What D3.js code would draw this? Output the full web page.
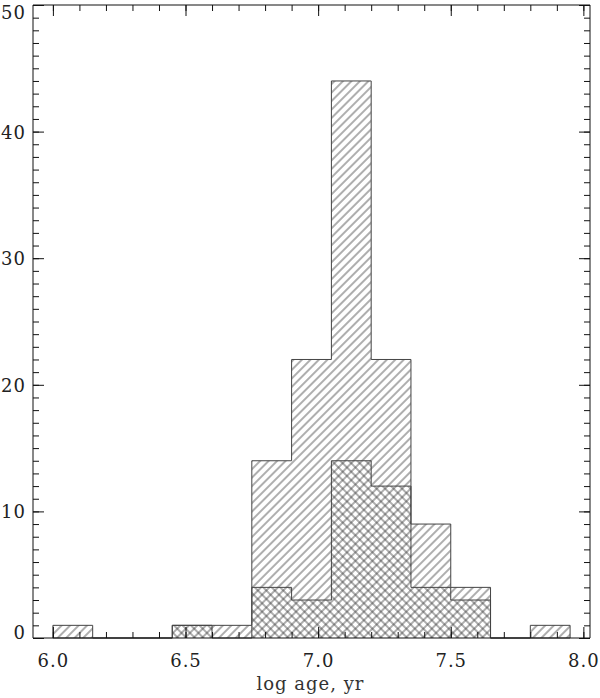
<!DOCTYPE html>
<html>
<head>
<meta charset="utf-8">
<script src="https://cdn.jsdelivr.net/npm/d3@7"></script>
<style>
  body { margin: 0; background: #fff; }
  .tick text { font-family: "DejaVu Serif", serif; font-size: 18px; fill: #222; letter-spacing: 1px; }
  .tick line { stroke: #111; stroke-width: 1; }
  .domain { stroke: #111; stroke-width: 1; }
  .x-axis-label { font-family: "DejaVu Serif", serif; font-size: 18px; fill: #333; letter-spacing: 1px; }
  .outline { fill: none; stroke: #444; stroke-width: 1; }
</style>
</head>
<body>
<svg width="600" height="698"></svg>
<script>
(function (d3) {
  'use strict';

  // data: left edges of the bins (width 0.15 in log age)
  var binEdges = [6.0, 6.15, 6.3, 6.45, 6.6, 6.75, 6.9, 7.05, 7.2, 7.35, 7.5, 7.65, 7.8];
  var binWidth = 0.15;
  var allCounts = [1, 0, 0, 1, 1, 14, 22, 44, 22, 9, 4, 0, 1];
  var subCounts = [0, 0, 0, 1, 0, 4, 3, 14, 12, 4, 3, 0, 0];

  var xMajorTicks = [6.0, 6.5, 7.0, 7.5, 8.0];
  var xMinorTicks = d3.range(60, 81).map(function (d) { return d / 10; });
  var yMajorTicks = [0, 10, 20, 30, 40, 50];
  var yMinorTicks = d3.range(0, 51);
  var xAxisLabel = "log age, yr";

  var svg = d3.select("svg");
  var margin = { top: 5, right: 10, left: 33, bottom: 60 };
  var width = +svg.attr("width");
  var innerWidth = width - margin.left - margin.right;
  var innerHeight = 638 - margin.top;

  var xScale = d3.scaleLinear().domain([5.925, 8.025]).range([0, innerWidth]);
  var yScale = d3.scaleLinear().domain([0, 50]).range([innerHeight, 0]);

  // hatch patterns
  var defs = svg.append("defs");
  var gap = 6;
  var makeHatch = function (id, angle) {
    var p = defs.append("pattern")
      .attr("id", id)
      .attr("patternUnits", "userSpaceOnUse")
      .attr("width", gap)
      .attr("height", gap)
      .attr("patternTransform", "rotate(" + angle + ")");
    p.append("line")
      .attr("x1", 0).attr("x2", gap)
      .attr("y1", gap / 2).attr("y2", gap / 2)
      .attr("stroke", "#333")
      .attr("stroke-width", 0.8);
  };
  makeHatch("hatch", -45);
  makeHatch("back", 45);

  var g = svg.append("g")
    .attr("transform", "translate(" + margin.left + "," + margin.top + ")");

  // step points from the bins
  var stepPoints = function (counts) {
    var pts = [[binEdges[0], 0]];
    binEdges.forEach(function (x0, i) {
      pts.push([x0, counts[i]]);
      pts.push([x0 + binWidth, counts[i]]);
    });
    pts.push([binEdges[binEdges.length - 1] + binWidth, 0]);
    return pts;
  };

  var area = d3.area()
    .x(function (d) { return xScale(d[0]); })
    .y0(yScale(0))
    .y1(function (d) { return yScale(d[1]); });

  var line = d3.line()
    .x(function (d) { return xScale(d[0]); })
    .y(function (d) { return yScale(d[1]); });

  var allPts = stepPoints(allCounts);
  var subPts = stepPoints(subCounts);

  g.append("path").attr("d", area(allPts)).attr("fill", "url(#hatch)");
  g.append("path").attr("d", area(subPts)).attr("fill", "url(#back)");
  g.append("path").attr("d", line(allPts)).attr("class", "outline");
  g.append("path").attr("d", line(subPts)).attr("class", "outline");

  // minor ticks
  var minor = function (axis, transform) {
    var a = g.append("g").attr("transform", transform).call(axis.tickSize(-6).tickFormat(""));
    a.select(".domain").remove();
  };
  minor(d3.axisBottom(xScale).tickValues(xMinorTicks), "translate(0," + innerHeight + ")");
  minor(d3.axisTop(xScale).tickValues(xMinorTicks), "translate(0,0)");
  minor(d3.axisLeft(yScale).tickValues(yMinorTicks), "translate(0,0)");
  minor(d3.axisRight(yScale).tickValues(yMinorTicks), "translate(" + innerWidth + ",0)");

  // major axes
  var xAxisGroup = g.append("g")
    .attr("transform", "translate(0," + innerHeight + ")")
    .call(d3.axisBottom(xScale).tickValues(xMajorTicks).tickSize(-11).tickPadding(16)
      .tickFormat(d3.format(".1f")))
    .attr("font-family", null).attr("font-size", null);
  xAxisGroup.selectAll(".domain").attr("d", "M0,0H" + innerWidth);

  g.append("g")
    .call(d3.axisTop(xScale).tickValues(xMajorTicks).tickSize(-11).tickFormat(""))
    .select(".domain").attr("d", "M0,0H" + innerWidth);

  var yAxisGroup = g.append("g")
    .call(d3.axisLeft(yScale).tickValues(yMajorTicks).tickSize(-11).tickPadding(7))
    .attr("font-family", null).attr("font-size", null);
  yAxisGroup.select(".domain").attr("d", "M0,0V" + innerHeight);
  // end labels kept inside the frame
  yAxisGroup.selectAll(".tick text")
    .attr("dy", function (d) { return d === 0 ? "0em" : d === 50 ? "0.73em" : "0.36em"; });

  g.append("g")
    .attr("transform", "translate(" + innerWidth + ",0)")
    .call(d3.axisRight(yScale).tickValues(yMajorTicks).tickSize(-11).tickFormat(""))
    .select(".domain").attr("d", "M0,0V" + innerHeight);

  // x axis label
  g.append("text")
    .text(xAxisLabel)
    .attr("class", "x-axis-label")
    .attr("x", innerWidth / 2 - 1)
    .attr("y", innerHeight + 52)
    .attr("text-anchor", "middle");

}(d3));
</script>
</body>
</html>
